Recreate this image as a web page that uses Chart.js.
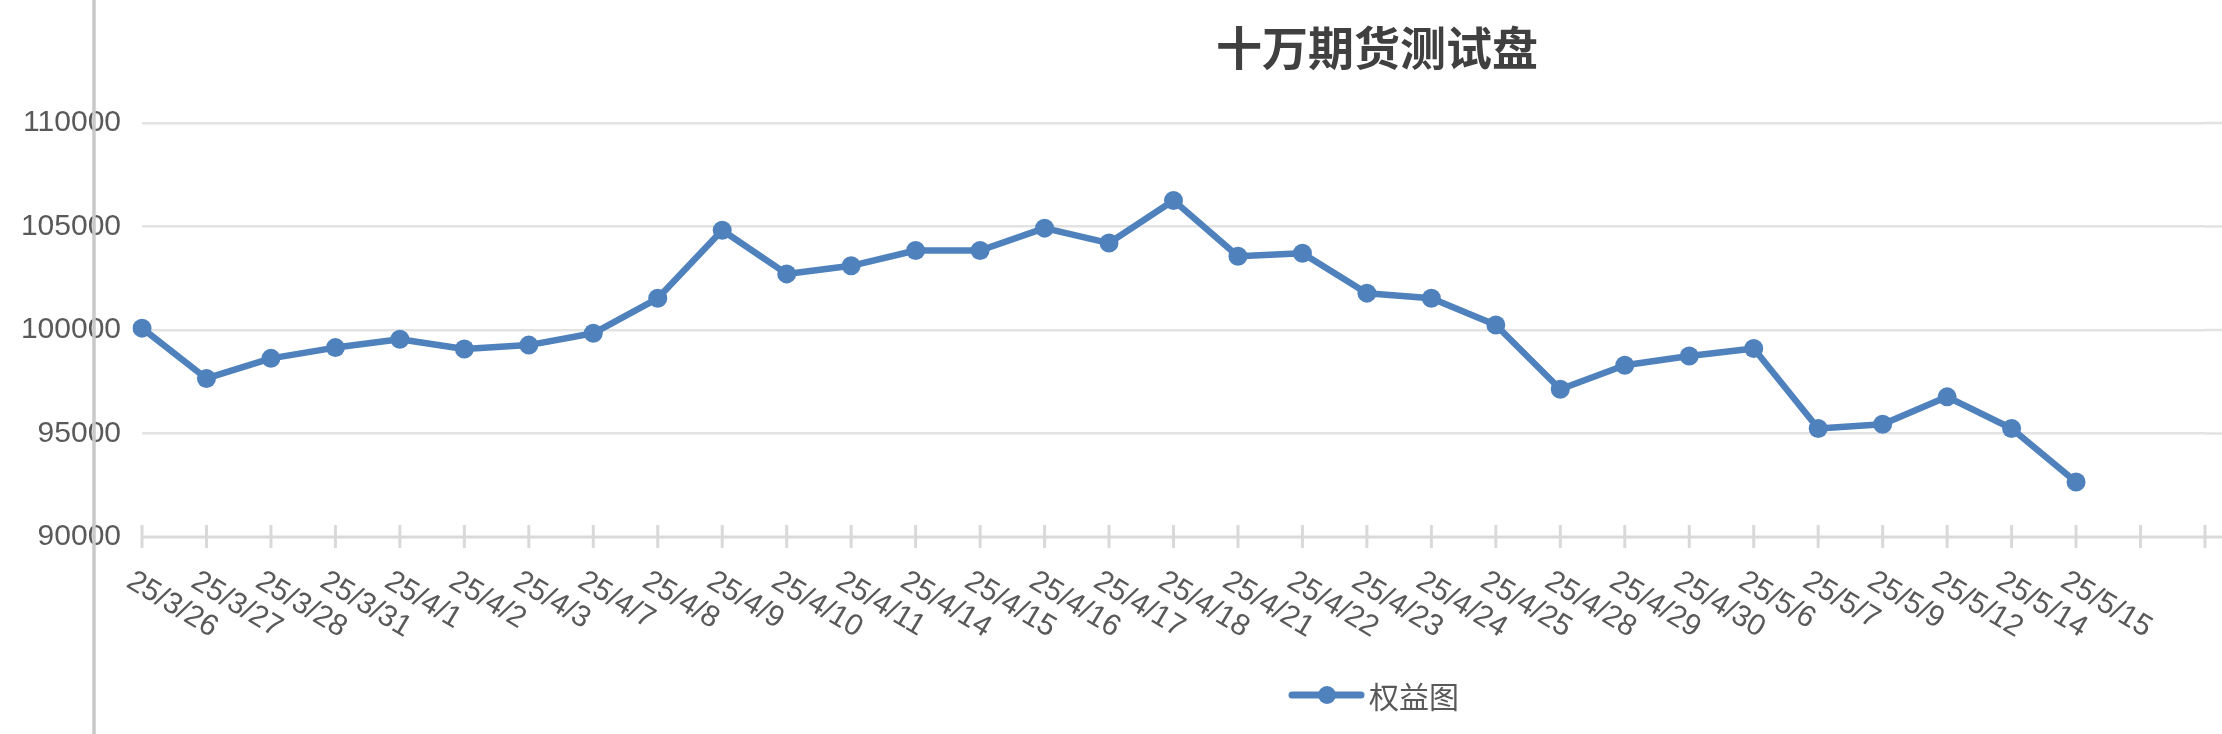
<!DOCTYPE html>
<html><head><meta charset="utf-8">
<script src="https://cdn.jsdelivr.net/npm/chart.js@4.4.1/dist/chart.umd.min.js"></script>
<style>
html,body{margin:0;padding:0;background:#fff;overflow:hidden}
#wrap{position:relative;width:2222px;height:734px}
</style>
</head><body>
<div id="wrap"><canvas id="c"></canvas></div>
<script>
// ---- data ----
const chartTitle = '十万期货测试盘';
const seriesName = '权益图';
const categories = ['25/3/26','25/3/27','25/3/28','25/3/31','25/4/1','25/4/2','25/4/3','25/4/7','25/4/8','25/4/9',
  '25/4/10','25/4/11','25/4/14','25/4/15','25/4/16','25/4/17','25/4/18','25/4/21','25/4/22','25/4/23',
  '25/4/24','25/4/25','25/4/28','25/4/29','25/4/30','25/5/6','25/5/7','25/5/9','25/5/12','25/5/14','25/5/15','',''];
const equity = [100090,97660,98630,99150,99550,99080,99270,99840,101530,104820,
  102710,103100,103840,103840,104920,104200,106260,103560,103710,101780,
  101530,100240,97140,98300,98740,99110,95240,95450,96770,95240,92660];
const yMin = 90000, yMax = 110000, yStep = 5000;

// ---- styles ----
const lineColor = '#4f81bd';
const gridColor = '#e3e3e3';
const axisColor = '#d9d9d9';
const textColor = '#595959';
const latinFont = '"Liberation Sans", Arial, sans-serif';
const cjkFont = '"Noto Sans CJK SC", sans-serif';

const decor = {
  id: 'decor',
  beforeDraw(chart) {
    const ctx = chart.ctx;
    ctx.save();
    ctx.fillStyle = '#fff';
    ctx.fillRect(0, 0, chart.width, chart.height);
    ctx.restore();
  },
  beforeDatasetsDraw(chart) {
    const {ctx, chartArea, scales: {x, y}} = chart;
    ctx.save();
    // extend horizontal grid lines to the right edge
    ctx.strokeStyle = gridColor;
    ctx.lineWidth = 2.5;
    y.ticks.forEach((t, i) => {
      if (t.value === yMin) return;
      const py = y.getPixelForTick(i);
      ctx.beginPath(); ctx.moveTo(chartArea.right, py); ctx.lineTo(chart.width, py); ctx.stroke();
    });
    // category axis line and tick marks
    const by = y.getPixelForValue(yMin);
    ctx.strokeStyle = axisColor;
    ctx.lineWidth = 3;
    ctx.beginPath(); ctx.moveTo(chartArea.left, by); ctx.lineTo(chart.width, by); ctx.stroke();
    categories.forEach((c, i) => {
      const px = x.getPixelForValue(i);
      ctx.beginPath(); ctx.moveTo(px, by - 12); ctx.lineTo(px, by + 11); ctx.stroke();
    });
    ctx.restore();
  },
  afterDraw(chart) {
    const {ctx, scales: {x, y}} = chart;
    const by = y.getPixelForValue(yMin);
    ctx.save();
    // rotated category labels
    ctx.fillStyle = textColor;
    ctx.font = '30px ' + latinFont;
    ctx.textAlign = 'left';
    ctx.textBaseline = 'alphabetic';
    categories.forEach((c, i) => {
      if (!c) return;
      const px = x.getPixelForValue(i);
      ctx.save();
      ctx.translate(px - 17, by + 49);
      ctx.rotate(31 * Math.PI / 180);
      ctx.fillText(c, 0, 0);
      ctx.restore();
    });
    // left border line
    ctx.strokeStyle = '#c9c9c9';
    ctx.lineWidth = 3.5;
    ctx.beginPath(); ctx.moveTo(94, 0); ctx.lineTo(94, chart.height); ctx.stroke();
    // title
    ctx.fillStyle = '#404040';
    ctx.font = 'bold 46px ' + cjkFont;
    ctx.textAlign = 'center';
    ctx.textBaseline = 'middle';
    ctx.fillText(chartTitle, 1377, 48);
    // legend
    const ds = chart.data.datasets[0];
    ctx.strokeStyle = ds.borderColor;
    ctx.lineWidth = 7;
    ctx.lineCap = 'round';
    ctx.beginPath(); ctx.moveTo(1292, 695); ctx.lineTo(1361, 695); ctx.stroke();
    ctx.fillStyle = ds.pointBackgroundColor;
    ctx.beginPath(); ctx.arc(1327, 695, 9, 0, Math.PI * 2); ctx.fill();
    ctx.fillStyle = textColor;
    ctx.font = '30px ' + cjkFont;
    ctx.textAlign = 'left';
    ctx.fillText(ds.label, 1369, 697);
    ctx.restore();
  }
};

new Chart(document.getElementById('c'), {
  type: 'line',
  data: {
    labels: categories,
    datasets: [{
      label: seriesName,
      data: equity,
      borderColor: lineColor,
      backgroundColor: lineColor,
      pointBackgroundColor: lineColor,
      pointBorderColor: lineColor,
      pointBorderWidth: 0,
      pointRadius: 9.5,
      borderWidth: 6.5,
      borderJoinStyle: 'round',
      tension: 0,
      fill: false
    }]
  },
  options: {
    responsive: true,
    maintainAspectRatio: false,
    animation: false,
    events: [],
    layout: {padding: {left: 0, right: 17, top: 123, bottom: 0}},
    plugins: {legend: {display: false}, title: {display: false}, tooltip: {enabled: false}},
    scales: {
      x: {
        type: 'category',
        offset: false,
        grid: {display: false},
        border: {display: false},
        ticks: {display: false},
        afterFit(scale) { scale.height = 197; }
      },
      y: {
        min: yMin, max: yMax,
        afterFit(scale) { scale.width = 142; },
        border: {display: false},
        grid: {
          drawTicks: false,
          lineWidth: 2.5,
          color: ctx => (ctx.tick && ctx.tick.value === yMin) ? 'rgba(0,0,0,0)' : gridColor
        },
        ticks: {
          stepSize: yStep,
          padding: 21,
          color: textColor,
          font: {family: latinFont, size: 30},
          callback: v => String(v)
        }
      }
    }
  },
  plugins: [decor]
});
</script>
</body></html>
